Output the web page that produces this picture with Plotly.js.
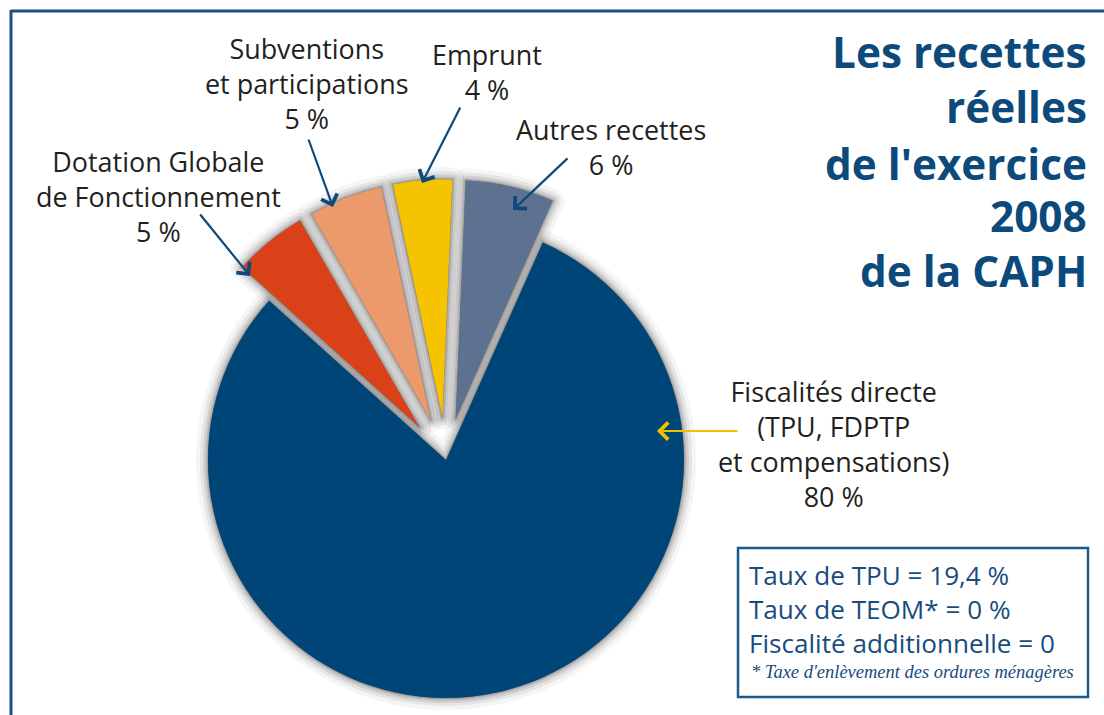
<!DOCTYPE html>
<html><head><meta charset="utf-8">
<script src="https://cdn.plot.ly/plotly-3.0.1.min.js"></script>
<style>
html,body{margin:0;padding:0;background:#fff;overflow:hidden}
#wrap{width:1104px;height:715px;overflow:hidden;position:relative}
#chart{width:1104px;height:800px}
</style></head>
<body><div id="wrap"><div id="chart"></div></div>
<script>
// ---------- data ----------
const categories = ["Fiscalités directe", "Dotation Globale de Fonctionnement", "Subventions et participations", "Emprunt", "Autres recettes"];
const shares = [80, 5, 5, 4, 6];
const labelLines = [
  ["Fiscalités directe", "(TPU, FDPTP", "et compensations)"],
  ["Dotation Globale", "de Fonctionnement"],
  ["Subventions", "et participations"],
  ["Emprunt"],
  ["Autres recettes"]
];
const sliceColors = ["#004577", "#db4119", "#ec996b", "#f5c300", "#5d7290"];
const titleLines = ["Les recettes", "réelles", "de l'exercice", "2008", "de la CAPH"];
const boxLines = ["Taux de TPU = 19,4 %", "Taux de TEOM* = 0 %", "Fiscalité additionnelle = 0"];
const footnote = "* Taxe d'enlèvement des ordures ménagères";

// ---------- helpers ----------
const W = 1104, H = 800;
const X = p => p / W, Y = p => 1 - p / H;
const cv = document.createElement('canvas').getContext('2d');
function fit(text, family, weight, style, target) {
  cv.font = style + ' ' + weight + ' 100px ' + family;
  return 100 * target / cv.measureText(text).width;
}
const LBL = 'Open Sans';
const labelSize = fit("de Fonctionnement", '"Open Sans"', 400, 'normal', 245);
const titleSize = fit("de l'exercice", '"Open Sans"', 700, 'normal', 262);
const boxSize = fit("Fiscalité additionnelle = 0", '"Open Sans"', 400, 'normal', 306);
const noteSize = fit(footnote, '"Liberation Serif"', 400, 'italic', 323);

// pie geometry
const cx = 446, cy = 460, r = 238, pull = 0.18;
const half = r * (1 + pull);
const domain = {x: [X(cx - half), X(cx + half)], y: [Y(cy + half), Y(cy - half)]};
const pulls = shares.map((v, i) => i === 0 ? 0 : pull);

function pieTrace(colors, lineColor, lineWidth) {
  return {
    type: 'pie', values: shares, labels: categories, sort: false,
    direction: 'clockwise', rotation: 24, pull: pulls, domain: domain,
    textinfo: 'none', hoverinfo: 'label+percent',
    marker: {colors: colors, line: {color: lineColor, width: lineWidth}},
    showlegend: false
  };
}
const shadowLayers = [[24, 0.05], [16, 0.08], [10, 0.12], [5, 0.16], [2, 0.2]];
const traces = shadowLayers.map(([w, a]) => {
  const c = 'rgba(60,55,55,' + a + ')';
  return pieTrace(shares.map(() => c), c, w);
});
traces.push(pieTrace(sliceColors, 'rgba(0,0,0,0)', 0));

// ---------- annotations ----------
const dark = '#231f20', navy = '#0d4a7c';
const ann = [];
const labelPos = [[833, 444], [158, 196], [306, 84], [487, 72], [611, 147]];
labelLines.forEach((lines, i) => {
  ann.push({
    xref: 'paper', yref: 'paper', x: X(labelPos[i][0]), y: Y(labelPos[i][1]),
    xanchor: 'center', yanchor: 'middle', align: 'center', showarrow: false,
    text: lines.concat([shares[i] + ' %']).join('<br>'),
    font: {family: LBL, size: labelSize, color: dark}
  });
});
// arrows: [tailX, tailY, headX, headY, color]
const arrows = [[739, 431, 657, 431, '#f2c200'], [199, 213, 250, 276, navy], [308, 138, 333, 207, navy],
                [461, 106, 422, 183, navy], [569, 157, 513, 210, navy]];
arrows.forEach(a => {
  ann.push({
    xref: 'paper', yref: 'paper', x: X(a[2]), y: Y(a[3]), ax: a[0] - a[2], ay: a[1] - a[3],
    axref: 'pixel', ayref: 'pixel', text: '', showarrow: true,
    arrowhead: 4, arrowsize: 1.5, arrowwidth: 2.2, arrowcolor: a[4], standoff: 0
  });
});
const titleY = [50, 104, 161, 213, 268];
titleLines.forEach((t, i) => {
  ann.push({
    xref: 'paper', yref: 'paper', x: X(1089), y: Y(titleY[i] + 2), xanchor: 'right', yanchor: 'middle',
    showarrow: false, text: t, font: {family: LBL, size: titleSize, color: navy, weight: 700}
  });
});
ann.push({
  xref: 'paper', yref: 'paper', x: X(747), y: Y(609), xanchor: 'left', yanchor: 'middle', align: 'left',
  showarrow: false, text: boxLines.join('<br>'), font: {family: LBL, size: boxSize, color: '#174c7e'}
});
ann.push({
  xref: 'paper', yref: 'paper', x: X(749), y: Y(672), xanchor: 'left', yanchor: 'middle',
  showarrow: false, text: footnote,
  font: {family: '"Liberation Serif", serif', size: noteSize, color: '#174c7e', style: 'italic'}
});

const shapes = [
  {type: 'line', xref: 'paper', yref: 'paper', x0: X(11), y0: Y(11), x1: X(1104), y1: Y(11), line: {color: '#1b5183', width: 3}},
  {type: 'line', xref: 'paper', yref: 'paper', x0: X(11), y0: Y(10), x1: X(11), y1: 0, line: {color: '#1b5183', width: 3}},
  {type: 'rect', xref: 'paper', yref: 'paper', x0: X(738), y0: Y(548), x1: X(1088), y1: Y(697), line: {color: '#1d5a8c', width: 2.5}}
];

Plotly.newPlot('chart', traces, {
  width: W, height: H, margin: {l: 0, r: 0, t: 0, b: 0},
  paper_bgcolor: '#ffffff', plot_bgcolor: '#ffffff', showlegend: false,
  annotations: ann, shapes: shapes
}, {displayModeBar: false, staticPlot: true});
</script>
</body></html>
